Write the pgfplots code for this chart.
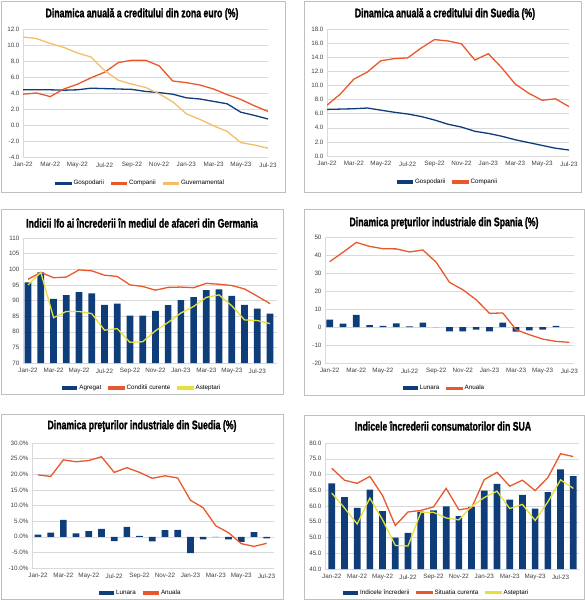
\documentclass[border=0pt]{standalone}
\usepackage{fontspec}
\setmainfont{Liberation Sans}
\newfontfamily\titlefont{Liberation Sans}[FakeStretch=0.7, BoldFeatures={FakeBold=1.3}]
\usepackage{pgfplots}
\pgfplotsset{compat=1.18}

\definecolor{navy}{HTML}{0F3D7A}
\definecolor{redl}{HTML}{E8582C}
\definecolor{tanl}{HTML}{F3BE6A}
\definecolor{yell}{HTML}{E6E03C}
\definecolor{gridc}{HTML}{D9D9D9}
\definecolor{framec}{HTML}{BFBFBF}

\pgfplotsset{
  panel/.style={
    scale only axis, anchor=south west,
    ymajorgrids, grid style={gridc, line width=0.5bp},
    axis lines*=left, axis line style={gridc},
    tick style={draw=none},
    xtick={0,2,...,18},
    xticklabels={Jan-22,Mar-22,May-22,Jul-22,Sep-22,Nov-22,Jan-23,Mar-23,May-23,Jul-23},
    ticklabel style={font=\fontsize{6.3}{7}\selectfont, text=black!75},
    xticklabel style={yshift=-2bp},
    /pgf/number format/assume math mode=true,
    legend columns=-1,
    legend style={draw=none, fill=none, anchor=center,
      font=\fontsize{6.3}{7}\selectfont,
      /tikz/every even column/.append style={column sep=5bp}},
    legend image code/.code={\fill[#1] (0bp,-0.9bp) rectangle (15bp,0.9bp);},
  },
  ln/.style={line width=1.3bp, mark=none},
  br/.style={ybar, bar width=6.7bp, fill=navy, draw=none,
    legend image code/.code={\fill[navy] (0bp,-2bp) rectangle (15bp,2bp);}},
  dec1/.style={yticklabel={\pgfmathprintnumber[fixed,fixed zerofill,precision=1]{\tick}}},
}

\begin{document}
\begin{tikzpicture}
\path[use as bounding box] (0,0) rectangle (585bp,-600bp);

% frames
\draw[framec, line width=0.6bp] (1bp,-1bp) rectangle (285bp,-192bp);
\draw[framec, line width=0.6bp] (304bp,-1bp) rectangle (581bp,-192bp);
\draw[framec, line width=0.6bp] (1bp,-209bp) rectangle (283bp,-394bp);
\draw[framec, line width=0.6bp] (304bp,-209bp) rectangle (584bp,-395bp);
\draw[framec, line width=0.6bp] (1bp,-414bp) rectangle (283bp,-599bp);
\draw[framec, line width=0.6bp] (304bp,-415bp) rectangle (584bp,-599bp);

% titles
\begin{scope}[every node/.style={font=\titlefont\bfseries\fontsize{12.5}{14}\selectfont}]
\node at (142bp,-14bp) {Dinamica anuală a creditului din zona euro (\%)};
\node at (445bp,-14bp) {Dinamica anuală a creditului din Suedia (\%)};
\node at (142bp,-223bp) {Indicii Ifo ai încrederii în mediul de afaceri din Germania};
\node at (444bp,-223bp) {Dinamica preţurilor industriale din Spania (\%)};
\node at (142bp,-426bp) {Dinamica preţurilor industriale din Suedia (\%)};
\node at (443bp,-426bp) {Indicele încrederii consumatorilor din SUA};
\end{scope}

% panel 1
\begin{axis}[panel, dec1, at={(23bp,-157bp)}, width=245bp, height=128bp,
  xmin=0, xmax=18, ymin=-4, ymax=12, ytick={-4,-2,...,12},
  legend style={at={(axis description cs:0.48,-0.205)}}]
\addplot[ln, navy] coordinates {(0,4.4)(1,4.4)(2,4.4)(3,4.35)(4,4.4)(5,4.6)(6,4.55)(7,4.5)(8,4.45)(9,4.2)(10,4.05)(11,3.85)(12,3.4)(13,3.25)(14,2.95)(15,2.65)(16,1.6)(17,1.2)(18,0.75)};
\addlegendentry{Gospodarii}
\addplot[ln, redl] coordinates {(0,3.85)(1,4.0)(2,3.55)(3,4.5)(4,5.1)(5,5.9)(6,6.6)(7,7.8)(8,8.1)(9,8.1)(10,7.4)(11,5.5)(12,5.3)(13,5.0)(14,4.5)(15,3.8)(16,3.2)(17,2.4)(18,1.7)};
\addlegendentry{Companii}
\addplot[ln, tanl] coordinates {(0,11.0)(1,10.8)(2,10.2)(3,9.7)(4,9.0)(5,8.5)(6,6.8)(7,5.6)(8,5.1)(9,4.7)(10,3.9)(11,2.9)(12,1.4)(13,0.7)(14,-0.1)(15,-0.8)(16,-2.2)(17,-2.5)(18,-2.9)};
\addlegendentry{Guvernamental}
\end{axis}

% panel 2
\begin{axis}[panel, dec1, at={(327bp,-156bp)}, width=242bp, height=127bp,
  xmin=0, xmax=18, ymin=0, ymax=18, ytick={0,2,...,18},
  legend style={at={(axis description cs:0.5,-0.205)}}]
\addplot[ln, navy] coordinates {(0,6.6)(1,6.65)(2,6.7)(3,6.8)(4,6.5)(5,6.2)(6,5.95)(7,5.6)(8,5.1)(9,4.5)(10,4.1)(11,3.5)(12,3.2)(13,2.8)(14,2.3)(15,1.9)(16,1.5)(17,1.1)(18,0.85)};
\addlegendentry{Gospodarii}
\addplot[ln, redl] coordinates {(0,7.2)(1,8.8)(2,10.9)(3,11.9)(4,13.5)(5,13.8)(6,13.9)(7,15.3)(8,16.5)(9,16.3)(10,15.9)(11,13.6)(12,14.5)(13,12.5)(14,10.2)(15,8.9)(16,7.9)(17,8.1)(18,7.0)};
\addlegendentry{Companii}
\end{axis}

% panel 3
\begin{axis}[panel, at={(23bp,-363bp)}, width=254bp, height=125bp,
  xmin=-0.4, xmax=19.55, ymin=70, ymax=110, ytick={70,75,...,110},
  legend style={at={(axis description cs:0.47,-0.2)}}]
\addplot[br] coordinates {(0,95.8)(1,99)(2,90.5)(3,91.7)(4,92.7)(5,92.3)(6,88.6)(7,89)(8,85.2)(9,85.2)(10,86.7)(11,88.5)(12,90.1)(13,91.1)(14,93.3)(15,93.6)(16,91.5)(17,88.6)(18,87.4)(19,85.8)};
\addlegendentry{Agregat}
\addplot[ln, redl] coordinates {(0,96.8)(1,99)(2,97.3)(3,97.5)(4,99.8)(5,99.5)(6,98.1)(7,97.7)(8,95)(9,94.5)(10,93.3)(11,94.2)(12,94.3)(13,94.1)(14,95.5)(15,95.2)(16,94.8)(17,93.7)(18,91.4)(19,89)};
\addlegendentry{Conditii curente}
\addplot[ln, yell] coordinates {(0,95)(1,99)(2,84.5)(3,86.5)(4,86.5)(5,85.8)(6,80.5)(7,81)(8,76.6)(9,76.8)(10,80.3)(11,83)(12,86)(13,88.1)(14,91)(15,91.8)(16,88.3)(17,83.8)(18,83.6)(19,82.6)};
\addlegendentry{Asteptari}
\end{axis}

% panel 4
\begin{axis}[panel, at={(325bp,-363bp)}, width=249bp, height=126bp,
  xmin=-0.35, xmax=18.35, ymin=-20, ymax=50, ytick={-20,-10,...,50},
  legend style={at={(axis description cs:0.48,-0.2)}}]
\addplot[br] coordinates {(0,4.1)(1,1.9)(2,6.7)(3,1.1)(4,0.6)(5,2.0)(6,0.4)(7,2.4)(8,0)(9,-2.4)(10,-2.4)(11,-1.5)(12,-2.4)(13,2.4)(14,-2.6)(15,-1.9)(16,-1.5)(17,0.6)};
\addlegendentry{Lunara}
\addplot[ln, redl] coordinates {(0,36.3)(1,41.5)(2,47)(3,44.8)(4,43.5)(5,43.4)(6,41.7)(7,42.8)(8,36)(9,24.8)(10,20.7)(11,15.2)(12,7.6)(13,7.8)(14,-1.5)(15,-4.3)(16,-6.7)(17,-8)(18,-8.5)};
\addlegendentry{Anuala}
\end{axis}

% panel 5
\begin{axis}[panel, at={(32bp,-568bp)}, width=242bp, height=125bp,
  xmin=-0.47, xmax=18.58, ymin=-10, ymax=30, ytick={-10,-5,...,30},
  yticklabel={\pgfmathprintnumber[fixed,fixed zerofill,precision=1]{\tick}\%},
  legend style={at={(axis description cs:0.45,-0.2)}}]
\addplot[br] coordinates {(0,0.7)(1,1.3)(2,5.4)(3,1.1)(4,1.8)(5,2.5)(6,-1.4)(7,3.2)(8,0.3)(9,-1.5)(10,2.1)(11,2.2)(12,-5.2)(13,-0.8)(14,-0.1)(15,-0.8)(16,-1.6)(17,1.5)(18,-0.5)};
\addlegendentry{Lunara}
\addplot[ln, redl] coordinates {(0,19.8)(1,19.3)(2,24.6)(3,24.0)(4,24.4)(5,25.6)(6,20.6)(7,22.1)(8,20.6)(9,18.7)(10,19.5)(11,18.8)(12,11.7)(13,9.3)(14,3.5)(15,1.3)(16,-2.2)(17,-3.1)(18,-2.1)};
\addlegendentry{Anuala}
\end{axis}

% panel 6
\begin{axis}[panel, dec1, at={(325bp,-569bp)}, width=254bp, height=126bp,
  xmin=-0.53, xmax=19.45, ymin=40, ymax=80, ytick={40,45,...,80},
  legend style={at={(axis description cs:0.44,-0.19)}}]
\addplot[br] coordinates {(0,67.2)(1,62.8)(2,59.4)(3,65.2)(4,58.4)(5,50.0)(6,51.5)(7,58.2)(8,58.6)(9,59.9)(10,56.8)(11,59.7)(12,64.9)(13,67.0)(14,62.0)(15,63.5)(16,59.2)(17,64.4)(18,71.6)(19,69.5)};
\addlegendentry{Indicele încrederii}
\addplot[ln, redl] coordinates {(0,72.0)(1,68.2)(2,67.2)(3,69.4)(4,63.3)(5,53.8)(6,58.1)(7,58.6)(8,59.7)(9,65.6)(10,58.8)(11,59.4)(12,68.4)(13,70.7)(14,66.3)(15,68.2)(16,64.9)(17,69.0)(18,76.6)(19,75.7)};
\addlegendentry{Situatia curenta}
\addplot[ln, yell] coordinates {(0,64.1)(1,59.4)(2,54.3)(3,62.5)(4,55.6)(5,47.5)(6,47.3)(7,57.9)(8,58.0)(9,56.2)(10,55.6)(11,59.9)(12,62.7)(13,64.7)(14,59.2)(15,60.5)(16,55.4)(17,61.3)(18,68.3)(19,65.6)};
\addlegendentry{Asteptari}
\end{axis}
\end{tikzpicture}
\end{document}
